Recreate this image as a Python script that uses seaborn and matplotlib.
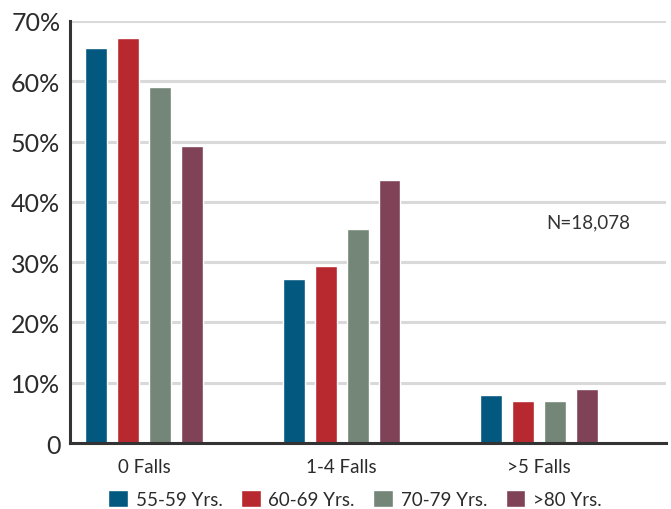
import matplotlib
matplotlib.use("Agg")
import matplotlib.pyplot as plt
import seaborn as sns
import pandas as pd

# Share of people (%) by number of falls, per age group
fall_groups = ["0 Falls", "1-4 Falls", ">5 Falls"]
age_groups = ["55-59 Yrs.", "60-69 Yrs.", "70-79 Yrs.", ">80 Yrs."]
pct_55_59 = [65.6, 27.2, 8.0]
pct_60_69 = [67.1, 29.3, 6.9]
pct_70_79 = [59.1, 35.5, 6.9]
pct_80_up = [49.3, 43.7, 9.0]
y_ticks = [0, 10, 20, 30, 40, 50, 60, 70]
y_tick_labels = ["0", "10%", "20%", "30%", "40%", "50%", "60%", "70%"]
sample_note = "N=18,078"

colors = ["#02587f", "#b8282f", "#748677", "#7f4257"]

rows = []
for age, vals in zip(age_groups, [pct_55_59, pct_60_69, pct_70_79, pct_80_up]):
    for cat, v in zip(fall_groups, vals):
        rows.append({"falls": cat, "age": age, "pct": v})
df = pd.DataFrame(rows)

sns.set_theme(style="white")
plt.rcParams["font.family"] = ["Lato", "DejaVu Sans"]

fig = plt.figure(figsize=(6.71, 5.10), dpi=100)
ax = fig.add_axes([0.1043, 0.1294, 0.8882, 0.8275])

sns.barplot(data=df, x="falls", y="pct", hue="age", order=fall_groups,
            hue_order=age_groups, palette=colors, saturation=1,
            width=0.648, gap=0.3125, errorbar=None, ax=ax, zorder=3)

handles, labels = ax.get_legend_handles_labels()
if ax.get_legend() is not None:
    ax.get_legend().remove()

ax.set_ylim(0, 70)
ax.set_xlim(-0.375, 2.643)
ax.set_yticks(y_ticks)
ax.set_yticklabels(y_tick_labels)
ax.set_xlabel("")
ax.set_ylabel("")

ax.yaxis.grid(True, color="#d9d9d9", linewidth=2.2, zorder=0)
ax.set_axisbelow(True)
for side in ["top", "right"]:
    ax.spines[side].set_visible(False)
for side in ["left", "bottom"]:
    ax.spines[side].set_color("#333333")
    ax.spines[side].set_linewidth(2.2)
    ax.spines[side].set_zorder(4)

ax.tick_params(axis="y", length=0, pad=7, labelsize=18, labelcolor="#2b2b2b")
ax.tick_params(axis="x", length=0, pad=11, labelsize=13.5, labelcolor="#2b2b2b")

ax.text(588 / 671, 1 - 223 / 510, sample_note, transform=fig.transFigure,
        ha="center", va="center", fontsize=13.5, color="#333333")

fig.legend(handles, labels, loc="center", bbox_to_anchor=(0.529, 0.020),
           ncol=4, frameon=False, fontsize=13.5, handlelength=1.05,
           handleheight=1.05, handletextpad=0.4, columnspacing=1.0,
           borderaxespad=0, borderpad=0, labelcolor="#2b2b2b")

fig.savefig("out.png", dpi=100, facecolor="white")
